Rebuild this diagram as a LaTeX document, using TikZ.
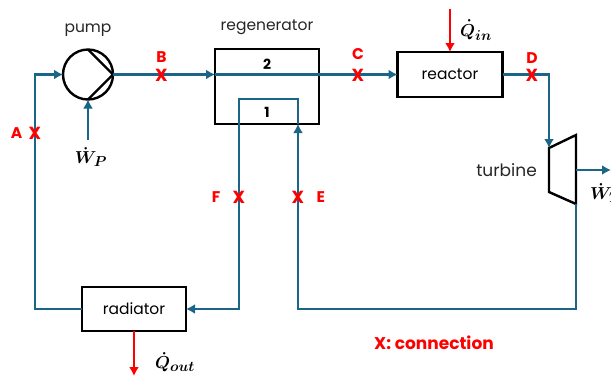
\documentclass[tikz,border=0pt]{standalone}
\usepackage{fontspec}
\setmainfont{Poppins}
\usetikzlibrary{positioning, calc, arrows.meta}
\definecolor{pipe}{HTML}{1B6587}

\begin{document}
\begin{tikzpicture}[x=1pt,y=-1pt]
\tikzset{block/.style={rectangle,draw,line width=2.4pt,outer sep=0pt,inner sep=0pt,font=\fontsize{15.5}{15.5}\selectfont},
  flow/.style={draw=pipe,line width=2.4pt,-{Latex[length=9pt,width=10pt]}},
  heat/.style={draw=red,line width=2.2pt,-{Latex[length=9pt,width=10pt]}},
  unitname/.style={font=\fontsize{15.5}{15.5}\selectfont,text=black!85,inner sep=0pt},
  xmark/.style={text=red,font=\fontsize{17.5}{17.5}\bfseries\selectfont,inner sep=0pt},
  conlabel/.style={text=red,font=\fontsize{15.5}{15.5}\bfseries\selectfont,inner sep=0pt},
  side/.style={font=\fontsize{14}{14}\bfseries\selectfont,inner sep=0pt},
  rate/.style={font=\fontsize{19}{19}\selectfont\boldmath,inner sep=0pt}}
\useasboundingbox (0,0) rectangle (611,376);

  \node [circle,draw,line width=2.4pt,minimum size=50pt,inner sep=0pt,outer sep=0pt] (pump) at (88,74.5) {};
  \node [block,minimum width=104pt,minimum height=75pt,right=102pt of pump.east,yshift=-12pt] (regen) {};
  \node [block,minimum width=105pt,minimum height=45pt,right=78.5pt of regen.east,yshift=12pt] (reactor) {reactor};
  \node [block,minimum width=104pt,minimum height=44pt] (radiator) at (134,309) {radiator};

  % pump and turbine outlines
  \draw [line width=2.4pt] (pump.north) -- (pump.east) -- (pump.south);
  \coordinate (turbA) at (549,148);
  \coordinate (turbB) at (576,135);
  \coordinate (turbC) at (576,204);
  \coordinate (turbD) at (549,192);
  \coordinate (turbOut) at (576,170);
  \draw [line width=2.4pt,line join=miter] (turbA) -- (turbB) -- (turbC) -- (turbD) -- cycle;

  \node [unitname,above=13pt of pump] (pumpname) {pump};
  \node [unitname,above=14pt of regen.north] (regenname) {regenerator};
  \node [unitname,font=\fontsize{17}{17}\selectfont,left=39pt of turbOut] (turbname) {turbine};
  \node [side] (side2) at (267,64) {2};
  \node [side] (side1) at (267,112) {1};

  \coordinate (regenIn) at (pump.east -| regen.west);
  \coordinate (bendA) at (35,309);
  \coordinate (bendB) at (35,74.5);
  \coordinate (regenOut) at (298,124);
  \coordinate (innerA) at (298,99);
  \coordinate (innerB) at (239,99);
  \coordinate (innerC) at (239,309);
  \coordinate (bendD) at (549,74.5);
  \coordinate (bendE) at (576,309);
  \coordinate (bendF) at (298,309);
  \coordinate (wpIn) at (88,140);
  \coordinate (qinIn) at (450,9);
  \coordinate (qoutEnd) at (134,376);
  \coordinate (wtEnd) at (611,170);

  \path [flow] (radiator.west) -- (bendA) -- (bendB) -- (pump.west);
  \path [flow] (pump.east) -- (regenIn);
  \path [flow] (regenIn) -- (reactor.west);
  \path [flow] (reactor.east) -- (bendD) -- (turbA);
  \path [flow] (turbC) -- (bendE) -- (bendF) -- (regenOut);
  \path [flow] (regenOut) -- (innerA) -- (innerB) -- (innerC) -- (radiator.east);
  \path [flow] (wpIn) -- (pump.south);
  \path [flow] (turbOut) -- (wtEnd);
  \path [heat] (qinIn) -- (reactor.north -| qinIn);
  \path [heat] (radiator.south) -- (qoutEnd);

  \node [rate] (wp) at (91,157) {$\dot{W}_P$};
  \node [rate] (qin) at (476,30) {$\dot{Q}_{in}$};
  \node [rate] (qout) at (175,362) {$\dot{Q}_{out}$};
  \node [rate,anchor=west] (wt) at (590,193) {$\dot{W}_T$};

  \node [xmark] (xA) at (35,133) {X};
  \node [xmark] (xB) at (161.5,75) {X};
  \node [xmark] (xC) at (358,75) {X};
  \node [xmark] (xD) at (532,75) {X};
  \node [xmark] (xE) at (298,197) {X};
  \node [xmark] (xF) at (239,197) {X};
  \node [conlabel,left=6pt of xA] (lA) {A};
  \node [conlabel,above=6pt of xB] (lB) {B};
  \node [conlabel,above=9pt of xC] (lC) {C};
  \node [conlabel,above=5pt of xD] (lD) {D};
  \node [conlabel,right=12pt of xE] (lE) {E};
  \node [conlabel,left=12pt of xF] (lF) {F};

  \node [text=red,font=\fontsize{17}{17}\bfseries\selectfont,inner sep=0pt] (legend) at (434,343) {X: connection};
\end{tikzpicture}
\end{document}
